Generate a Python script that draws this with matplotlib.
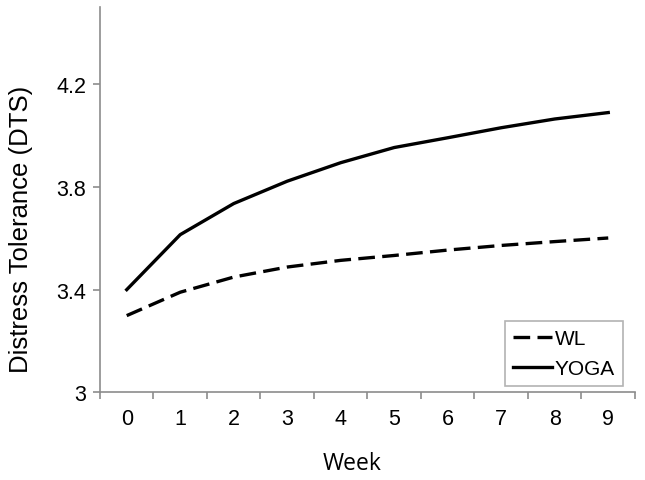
import numpy as np
import matplotlib
matplotlib.use("Agg")
import matplotlib.pyplot as plt

weeks = [0, 1, 2, 3, 4, 5, 6, 7, 8, 9]
wl = [3.299, 3.390, 3.449, 3.488, 3.514, 3.533, 3.554, 3.572, 3.587, 3.601]
yoga = [3.400, 3.614, 3.735, 3.822, 3.894, 3.953, 3.991, 4.030, 4.064, 4.089]
y_ticks = [3, 3.4, 3.8, 4.2]
y_labels = ["3", "3.4", "3.8", "4.2"]

plt.rcParams['font.family'] = ['Liberation Sans', 'DejaVu Sans']

fig = plt.figure(figsize=(6.45, 4.81), dpi=100)
ax = fig.add_axes([0.155, 0.182, 0.8295, 0.8015])

x = np.arange(len(weeks))
ax.plot(x, wl, color='black', lw=2.4, ls=(0, (5, 2.2)), label='WL')
ax.plot(x, yoga, color='black', lw=2.4, label='YOGA')

ax.set_xlim(-0.5, len(weeks) - 0.5)
ax.set_ylim(3, 4.5)

axis_gray = '#8c8c8c'
for side in ['top', 'right']:
    ax.spines[side].set_visible(False)
for side in ['left', 'bottom']:
    ax.spines[side].set_color(axis_gray)
    ax.spines[side].set_linewidth(1.2)

ax.set_yticks(y_ticks)
ax.set_yticklabels(y_labels, fontsize=15.5)
ax.tick_params(axis='y', length=5, width=1.2, color=axis_gray, pad=5)

# category boundaries get the tick marks, labels sit at centres
ax.set_xticks(np.arange(-0.5, len(weeks), 1.0))
ax.set_xticklabels([])
ax.set_xticks(x, minor=True)
ax.set_xticklabels([str(w) for w in weeks], minor=True, fontsize=15.5)
ax.tick_params(axis='x', which='major', length=5, width=1.2, color=axis_gray)
ax.tick_params(axis='x', which='minor', length=0, pad=11)

fig.text(21 / 645, 1 - 229 / 481, 'Distress Tolerance (DTS)', rotation=90,
         ha='center', va='center', fontsize=18.5)
fig.text(352 / 645, 1 - 464 / 481, 'Week', ha='center', va='center',
         fontsize=16.5, family=['Open Sans', 'DejaVu Sans'])

leg = ax.legend(loc='lower right', bbox_to_anchor=(0.9776, 0.0164), borderaxespad=0,
                fontsize=15, frameon=True, fancybox=False, handlelength=1.9,
                handletextpad=0.1, borderpad=0.4, labelspacing=0.5)
leg.get_frame().set_edgecolor('#a0a0a0')
leg.get_frame().set_linewidth(1.2)

fig.savefig('out.png', dpi=100)
